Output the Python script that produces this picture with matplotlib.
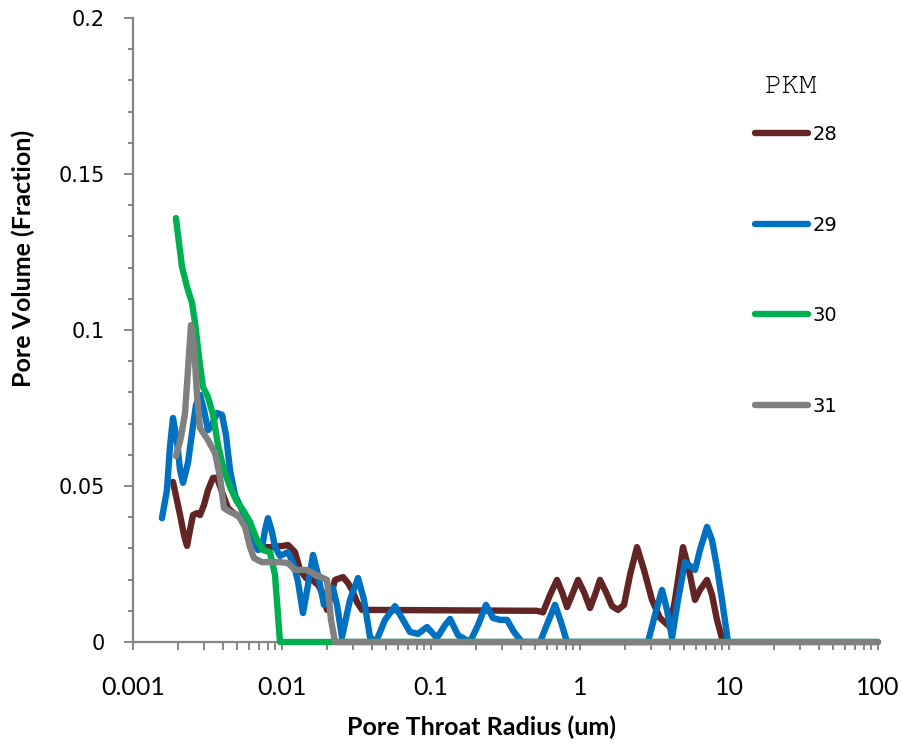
import numpy as np
import matplotlib
matplotlib.use("Agg")
import matplotlib.pyplot as plt
from matplotlib.ticker import FixedLocator, MultipleLocator, FuncFormatter, LogLocator

# pore throat radius (um) and pore volume fraction, one pair per well depth
radius_28 = [0.001855, 0.00197, 0.00207, 0.002199, 0.002304, 0.002413, 0.002527, 0.002689,
             0.002817, 0.002995, 0.003187, 0.003443, 0.003663, 0.003957, 0.004341, 0.004837,
             0.00539, 0.006099, 0.006901, 0.008307, 0.01016, 0.01097, 0.01223, 0.01321,
             0.01449, 0.0159, 0.01745, 0.01856, 0.02004, 0.02133, 0.02268, 0.02567, 0.02773,
             0.0295, 0.03187, 0.03443, 0.5145, 0.5646, 0.6292, 0.7008, 0.7574, 0.8181, 0.8838,
             0.9696, 1.064, 1.167, 1.261, 1.362, 1.494, 1.640, 1.799, 1.974, 2.166, 2.413,
             2.689, 3.042, 3.443, 4.018, 4.341, 4.912, 5.39, 5.913, 6.387, 7.118, 7.69, 8.307,
             9.116]
pv_28 = [0.0513, 0.0455, 0.0407, 0.0343, 0.0308, 0.0359, 0.0407, 0.0413, 0.0407, 0.0439,
         0.0487, 0.0526, 0.0526, 0.0481, 0.0429, 0.0410, 0.0397, 0.0343, 0.0304, 0.0304,
         0.0308, 0.0311, 0.0288, 0.0231, 0.0205, 0.0199, 0.0183, 0.0160, 0.0103, 0.0151,
         0.0199, 0.0208, 0.0189, 0.0167, 0.0128, 0.0103, 0.0100, 0.0095, 0.0151, 0.0199,
         0.0160, 0.0112, 0.0151, 0.0199, 0.0160, 0.0109, 0.0151, 0.0199, 0.0160, 0.0115,
         0.0103, 0.0119, 0.0215, 0.0304, 0.0231, 0.0135, 0.0077, 0.0048, 0.0135, 0.0304,
         0.0231, 0.0135, 0.0167, 0.0199, 0.0151, 0.0071, 0.0]

radius_29 = [0.001565, 0.00169, 0.00177, 0.001855, 0.00197, 0.00207, 0.002166, 0.002339,
             0.002489, 0.002648, 0.002817, 0.002995, 0.003187, 0.00339, 0.003663, 0.003957,
             0.004209, 0.004477, 0.004837, 0.00539, 0.005913, 0.006387, 0.006901, 0.007343,
             0.00769, 0.008054, 0.008567, 0.008974, 0.009696, 0.01097, 0.01204, 0.01281,
             0.01383, 0.01495, 0.01615, 0.01745, 0.01913, 0.02067, 0.02199, 0.02339, 0.02527,
             0.0286, 0.03237, 0.03551, 0.03895, 0.04274, 0.04912, 0.05735, 0.06487, 0.0723,
             0.08181, 0.09402, 0.1097, 0.1242, 0.1342, 0.1518, 0.1827, 0.2068, 0.2339, 0.2607,
             0.2904, 0.3236, 0.3606, 0.408, 0.539, 0.6099, 0.6797, 0.7457, 0.8181, 2.86, 3.187,
             3.551, 3.836, 4.145, 4.547, 5.067, 5.474, 5.913, 6.387, 7.118, 7.69, 8.307, 8.974,
             9.846]
pv_29 = [0.0397, 0.0487, 0.0625, 0.0718, 0.0647, 0.0551, 0.0510, 0.0574, 0.0670, 0.0760,
         0.0792, 0.0744, 0.0679, 0.0696, 0.0734, 0.0728, 0.0663, 0.0551, 0.0471, 0.0423,
         0.0381, 0.0327, 0.0295, 0.0301, 0.0359, 0.0397, 0.0353, 0.0304, 0.0276, 0.0288,
         0.0247, 0.0192, 0.0093, 0.0183, 0.0279, 0.0215, 0.0119, 0.0151, 0.0173, 0.0119,
         0.0016, 0.0135, 0.0205, 0.0135, 0.0016, 0.0, 0.0071, 0.0115, 0.0071, 0.0032,
         0.0026, 0.0048, 0.0013, 0.0054, 0.0074, 0.0022, 0.0, 0.0054, 0.0119, 0.0077,
         0.0071, 0.0071, 0.0032, 0.0, 0.0, 0.0064, 0.0119, 0.0064, 0.0, 0.0, 0.0087,
         0.0167, 0.0103, 0.0013, 0.0135, 0.0256, 0.0244, 0.0231, 0.0295, 0.0369, 0.0327,
         0.0240, 0.0135, 0.0]

radius_30 = [0.00194, 0.002133, 0.002304, 0.002489, 0.00261, 0.002773, 0.00295, 0.003187,
             0.003443, 0.003719, 0.004081, 0.004477, 0.004989, 0.005474, 0.006099, 0.006795,
             0.007457, 0.008307, 0.008974, 0.009696, 100]
pv_30 = [0.1359, 0.1202, 0.1138, 0.1087, 0.1022, 0.0913, 0.0817, 0.0785, 0.0728, 0.0631,
         0.0551, 0.0497, 0.0449, 0.0423, 0.0385, 0.0327, 0.0295, 0.0288, 0.0215, 0.0, 0.0]

radius_31 = [0.001944, 0.0021, 0.002234, 0.002339, 0.00245, 0.002567, 0.002689, 0.002817,
             0.003187, 0.003551, 0.003836, 0.004081, 0.004477, 0.005067, 0.005645, 0.006099,
             0.006487, 0.007343, 0.0097, 0.01097, 0.01223, 0.01472, 0.01745, 0.02004, 0.02133,
             0.02268, 100]
pv_31 = [0.0596, 0.0657, 0.0734, 0.0872, 0.1016, 0.0952, 0.0792, 0.0686, 0.0647, 0.0606,
         0.0529, 0.0429, 0.0417, 0.0407, 0.0369, 0.0304, 0.0269, 0.0256, 0.0256, 0.0253,
         0.0231, 0.0231, 0.0212, 0.0199, 0.0071, 0.0, 0.0]

depths = ['28', '29', '30', '31']
colors = ['#632523', '#0070C0', '#00B050', '#808080']
x_ticks = [0.001, 0.01, 0.1, 1, 10, 100]
y_ticks = [0, 0.05, 0.1, 0.15, 0.2]

fig = plt.figure(figsize=(9.04, 7.47), dpi=100)
ax = fig.add_axes([133/904, 1-642/747, (878-133)/904, (642-18)/747])

series = [(radius_28, pv_28), (radius_29, pv_29), (radius_30, pv_30), (radius_31, pv_31)]
for (r, pv), lab, c in zip(series, depths, colors):
	ax.plot(r, pv, color=c, lw=4.6, label=lab, solid_capstyle='round',
	        solid_joinstyle='round', clip_on=False, zorder=3)

ax.set_xscale('log')
ax.set_xlim(0.001, 100)
ax.set_ylim(0, 0.2)

ax.xaxis.set_major_locator(FixedLocator(x_ticks))
ax.xaxis.set_minor_locator(LogLocator(base=10, subs=np.arange(2, 10), numticks=20))
ax.xaxis.set_major_formatter(FuncFormatter(lambda v, p: '%g' % v))
ax.yaxis.set_major_locator(FixedLocator(y_ticks))
ax.yaxis.set_minor_locator(MultipleLocator(0.01))
ax.yaxis.set_major_formatter(FuncFormatter(lambda v, p: '%g' % v))

for side in ['top', 'right']:
	ax.spines[side].set_visible(False)
for side in ['left', 'bottom']:
	ax.spines[side].set_color('#868686')
	ax.spines[side].set_linewidth(1.6)

ax.tick_params(axis='both', which='both', direction='out', color='#868686', width=1.4)
ax.tick_params(axis='y', which='major', length=6.5, pad=14, labelsize=15)
ax.tick_params(axis='y', which='minor', length=3.5)
ax.tick_params(axis='x', which='major', length=5.5, pad=19, labelsize=18)
ax.tick_params(axis='x', which='minor', length=5.5)
for t in ax.get_xticklabels():
	t.set_family('Lato')

fig.text(482/904, 1-727/747, 'Pore Throat Radius (um)', ha='center', va='center',
         fontsize=18, fontweight='bold', family='Lato')
fig.text(23/904, 1-258/747, 'Pore Volume (Fraction)', ha='center', va='center',
         rotation=90, fontsize=18, fontweight='bold', family='Lato')

leg = ax.legend(loc='upper left', bbox_to_anchor=(755/904, 1-125/747),
                bbox_transform=fig.transFigure, frameon=False, fontsize=14,
                handlelength=2.7, handletextpad=0.25, labelspacing=3.68,
                borderpad=0, borderaxespad=0)
for h in leg.get_lines():
	h.set_linewidth(4.6)
fig.text(791/904, 1-87/747, 'PKM', ha='center', va='center', fontsize=21,
         family=['Nimbus Mono PS', 'FreeMono', 'Liberation Mono'])

plt.savefig('out.png', dpi=100)
